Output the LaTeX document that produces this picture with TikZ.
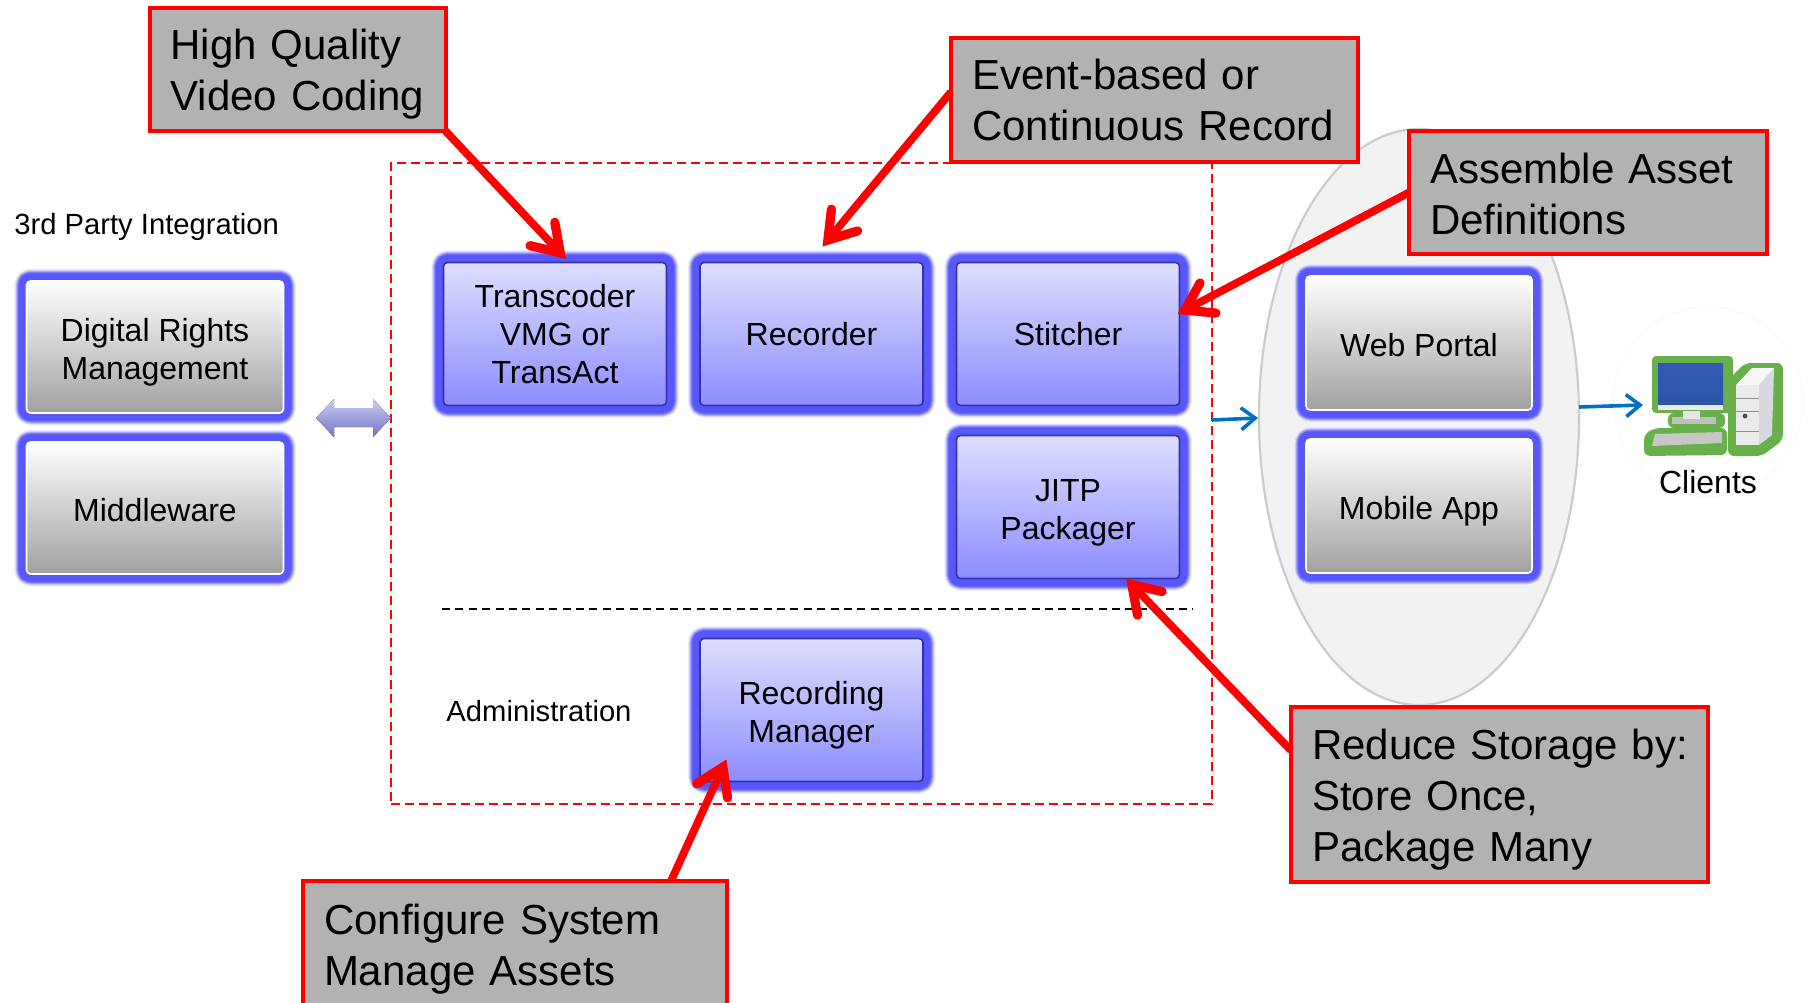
\documentclass[tikz,border=0pt]{standalone}
\usepackage{fontspec}
\setmainfont{Liberation Sans}
\usetikzlibrary{arrows.meta,shapes.geometric}
\definecolor{glowc}{RGB}{88,88,250}
\definecolor{calloutgrey}{RGB}{178,178,178}
\definecolor{arrowblue}{RGB}{0,112,192}
\definecolor{dbltop}{RGB}{205,205,245}
\definecolor{dblbot}{RGB}{115,115,195}
\definecolor{pcgreen}{RGB}{105,175,75}
\definecolor{scrtop}{RGB}{50,90,180}
\definecolor{scrbot}{RGB}{45,85,165}
\newcommand{\cl}{\hspace*{10.5pt}}
\newcommand{\lift}[1]{\rule{0pt}{#1}}
\tikzset{
  glow/.style={
    preaction={draw=glowc!8,line width=12.5pt,line join=round},
    preaction={draw=glowc!22,line width=11.5pt,line join=round},
    preaction={draw=glowc!45,line width=10.5pt,line join=round},
    preaction={draw=glowc!70,line width=9.5pt,line join=round},
    preaction={draw=glowc!90,line width=8.5pt,line join=round},
    preaction={draw=glowc,line width=7.5pt,line join=round}},
  bluebox/.style={glow,draw=blue!60!black!80,line width=0.8pt,rounded corners=2pt,top color=blue!13,bottom color=blue!45,
    minimum width=111.5pt,minimum height=71.5pt,align=center,outer sep=0pt,inner sep=0pt,
    font=\fontsize{16}{19}\selectfont},
  greybox/.style={glow,draw=white,line width=0.8pt,rounded corners=2pt,top color=white,bottom color=black!37,
    minimum width=128.5pt,minimum height=66pt,align=center,outer sep=0pt,inner sep=0pt,
    font=\fontsize{16}{19}\selectfont},
  callout/.style={draw=red,line width=2pt,fill=calloutgrey,align=left,anchor=center,outer sep=0pt,inner sep=0pt,
    font=\fontsize{21}{25.5}\selectfont},
  plainlabel/.style={align=center,inner sep=0pt,font=\fontsize{14.6}{17}\selectfont},
  redarrow/.style={red,line width=3.9pt,-{Straight Barb[length=13pt,width=17pt,line width=4.6pt,line cap=round,line join=miter]}},
  bluearrow/.style={arrowblue,line width=1.8pt,-{Straight Barb[length=7pt,width=11pt,line width=1.8pt]}},
  hr/.style={dash pattern=on 4pt off 2.7pt,line width=1pt},
}
\begin{document}
\begin{tikzpicture}[x=0.5pt,y=-0.5pt]
\useasboundingbox (0,0) rectangle (1811,1002);
\clip (0,0) rectangle (1811,1002);

% client halo
\node[name=halo,circle,draw=black!3,line width=0.4pt,minimum size=95pt,inner sep=0pt] at (1708,402) {};

% ellipse
\node[name=portal,ellipse,draw=black!20,line width=1.1pt,fill=black!5,minimum width=160pt,minimum height=288pt,inner sep=0pt,outer sep=0pt] at (1419,417) {};

% frame
\node[name=frame,draw=red,dash pattern=on 4.5pt off 2.5pt,line width=0.9pt,minimum width=410.5pt,minimum height=320.5pt,inner sep=0pt,outer sep=0pt] at (801.5,483.5) {};
\draw[hr] (442,609) coordinate (hrl) -- (1193,609) coordinate (hrr);

% left boxes
\node[greybox,name=drm] at (155,347) {\lift{17pt}Digital Rights\\Management};
\node[greybox,name=mw] at (155,508) {\lift{14pt}Middleware};
\node[plainlabel,name=third,anchor=west] at (14,227) {3rd Party Integration};

% double arrow
\fill[top color=dbltop,bottom color=dblbot]
  (316,418) -- (334,399) -- (334,408) -- (373,408) -- (373,399) -- (391,418)
  -- (373,437) -- (373,427) -- (334,427) -- (334,437) -- cycle;

% main boxes
\node[bluebox,name=trans] at (555,334) {Transcoder\\VMG or\\TransAct};
\node[bluebox,name=rec] at (811.5,334) {Recorder};
\node[bluebox,name=stitch] at (1068,334) {Stitcher};
\node[bluebox,name=jitp] at (1068,507) {\lift{17pt}JITP\\Packager};
\node[bluebox,name=rm] at (811.5,710) {\lift{17pt}Recording\\Manager};
\node[plainlabel,name=admin] at (539,711) {Administration};

% right boxes
\node[greybox,name=web,minimum width=113pt,minimum height=67pt] at (1419,343) {\lift{14pt}Web Portal};
\node[greybox,name=mob,minimum width=113pt,minimum height=67pt] at (1419,506) {\lift{16.5pt}Mobile App};

% client icon
\fill[pcgreen,rounded corners=2pt] (1652,356) rectangle (1733,413);
\fill[pcgreen,rounded corners=3pt] (1668,413) rectangle (1725,428);
\fill[pcgreen,rounded corners=3pt] (1644,434) -- (1655,428) -- (1727,428) -- (1727,455) -- (1644,456) -- cycle;
\fill[pcgreen,rounded corners=3pt] (1728,380) -- (1745,363) -- (1783,363) -- (1783,440) -- (1762,456) -- (1728,456) -- cycle;
\shade[top color=scrtop,bottom color=scrbot] (1658,363) rectangle (1723,405);
\fill[black!8] (1658,405) rectangle (1723,410);
\fill[black!25] (1672,417) rectangle (1716,424);
\fill[black!10] (1683,411) rectangle (1700,419);
\fill[black!22] (1655,434) -- (1722,432) -- (1722,443) -- (1652,446) -- cycle;
\fill[blue!8!black!8] (1736,385) -- (1759,385) -- (1759,445) -- (1736,445) -- cycle;
\fill[blue!10!black!15] (1759,385) -- (1774,368) -- (1772,435) -- (1759,445) -- cycle;
\fill[blue!5!black!3] (1736,385) -- (1752,368) -- (1774,368) -- (1759,385) -- cycle;
\draw[black!45,line width=0.4pt] (1736,398) -- (1759,398) (1736,411) -- (1759,411) (1736,431) -- (1759,431);
\fill[black!70] (1745,416) circle (1.2pt);
\node[plainlabel,name=clients,font=\fontsize{16}{19}\selectfont] at (1708,482) {Clients};

% blue arrows
\coordinate (b1s) at (1212,420);
\coordinate (b1e) at (1258,418);
\coordinate (b2s) at (1579,407);
\coordinate (b2e) at (1643,405);
\draw[bluearrow] (b1s) -- (b1e);
\draw[bluearrow] (b2s) -- (b2e);

% callouts
\node[callout,name=hq,minimum height=61.5pt,text width=148pt] at (297.5,69.5) {\cl\lift{19.6pt}High Quality\\\cl Video Coding};
\node[callout,name=event,minimum height=62pt,text width=203.5pt] at (1154.5,100) {\cl Event-based or\\\cl Continuous Record};
\node[callout,name=assemble,minimum height=61.5pt,text width=179pt] at (1588,192.5) {\cl\lift{16.2pt}Assemble Asset\\\cl Definitions};
\node[callout,name=reduce,minimum height=87.5pt,text width=208.5pt] at (1499.5,794.5) {\cl\lift{20pt}Reduce Storage by:\\\cl Store Once,\\\cl Package Many};
\node[callout,name=config,minimum height=64.5pt,text width=212pt] at (515,945.5) {\cl\lift{19pt}Configure System\\\cl Manage Assets};

% red arrows
\draw[redarrow] (hq.south east) -- ([xshift=5.5pt,yshift=1.75pt]trans.north);
\draw[redarrow] ([yshift=4pt]event.west) -- ([xshift=5.5pt,yshift=8pt]rec.north);
\draw[redarrow] (assemble.west) -- ([xshift=-1pt,yshift=10pt]stitch.east);
\draw[redarrow] ([yshift=22pt]reduce.west) -- ([xshift=29pt]jitp.south);
\draw[redarrow] ([xshift=-28pt]config.north east) -- ([xshift=13.2pt,yshift=11pt]rm.south west);
\end{tikzpicture}
\end{document}
